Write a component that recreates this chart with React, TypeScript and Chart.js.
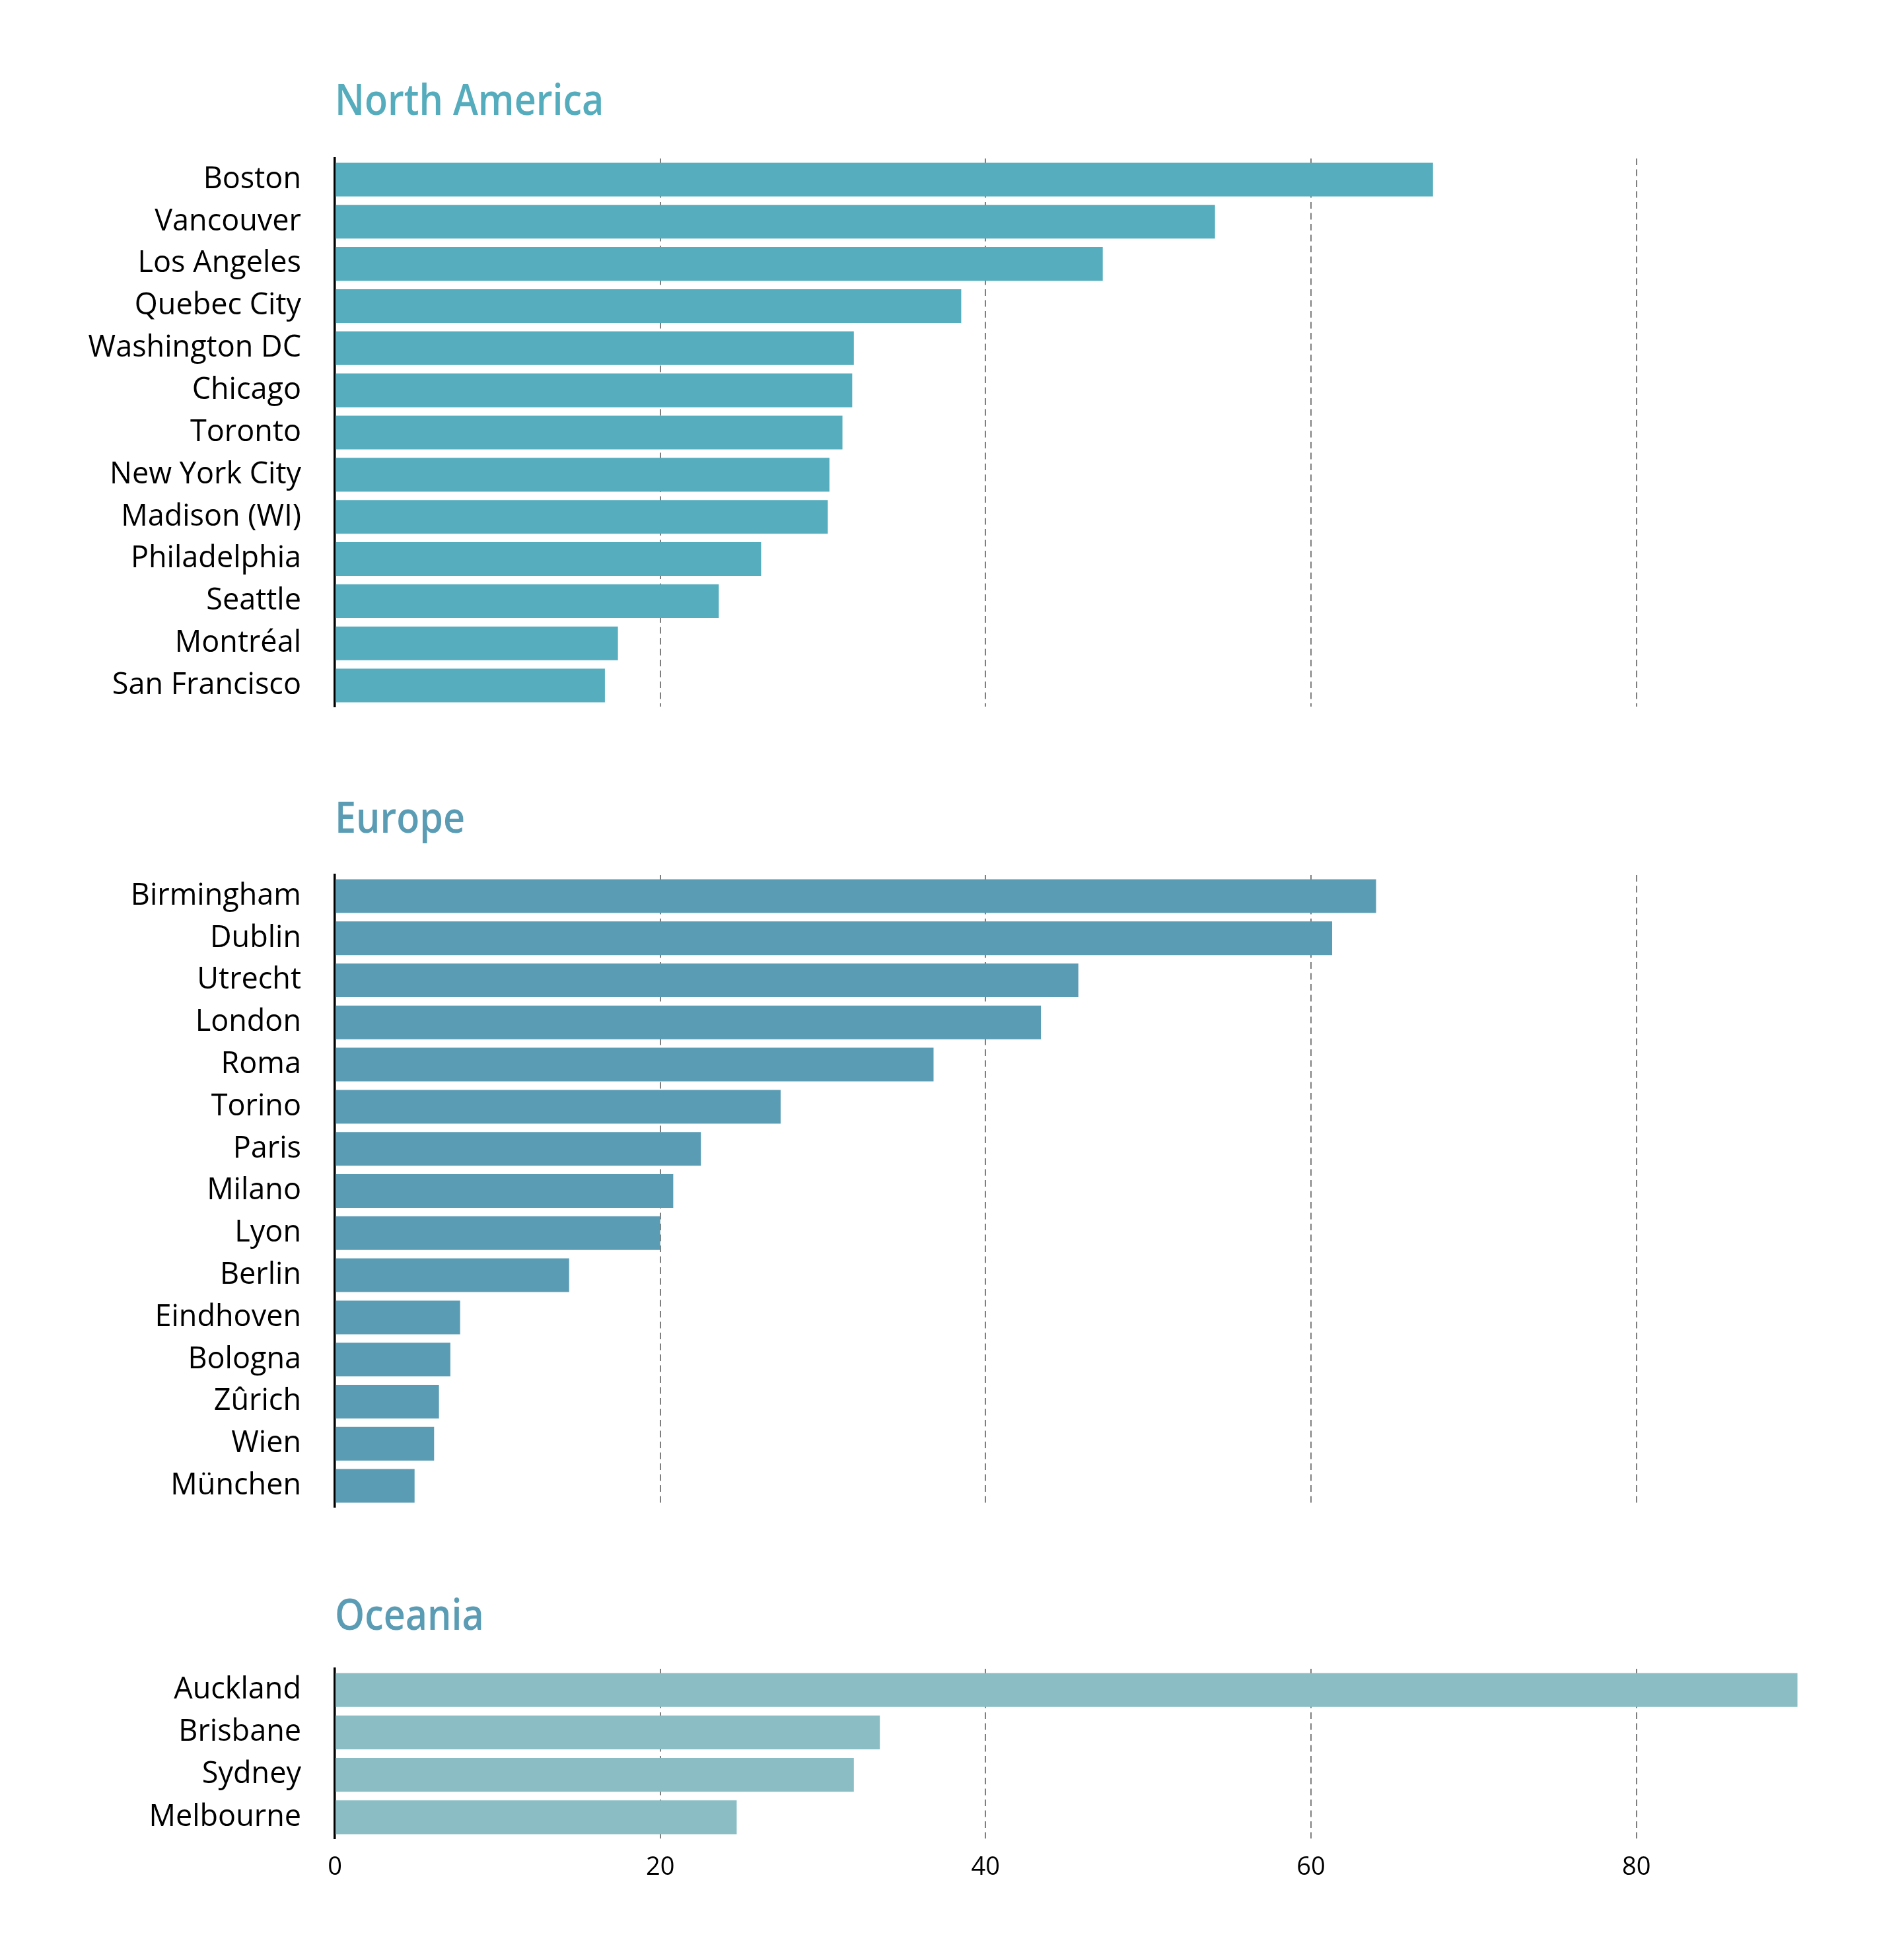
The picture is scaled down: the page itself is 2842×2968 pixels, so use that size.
import React, { useEffect, useRef } from "react";
import { Chart, registerables } from "chart.js";

Chart.register(...registerables);

// ---- data ----
const naCities = [
  "Boston", "Vancouver", "Los Angeles", "Quebec City", "Washington DC", "Chicago", "Toronto",
  "New York City", "Madison (WI)", "Philadelphia", "Seattle", "Montréal", "San Francisco",
];
const naValues = [67.5, 54.1, 47.2, 38.5, 31.9, 31.8, 31.2, 30.4, 30.3, 26.2, 23.6, 17.4, 16.6];

const euCities = [
  "Birmingham", "Dublin", "Utrecht", "London", "Roma", "Torino", "Paris", "Milano", "Lyon",
  "Berlin", "Eindhoven", "Bologna", "Zûrich", "Wien", "München",
];
const euValues = [64.0, 61.3, 45.7, 43.4, 36.8, 27.4, 22.5, 20.8, 20.0, 14.4, 7.7, 7.1, 6.4, 6.1, 4.9];

const ocCities = ["Auckland", "Brisbane", "Sydney", "Melbourne"];
const ocValues = [89.9, 33.5, 31.9, 24.7];

const xTickValues = [0, 20, 40, 60, 80];
const xMax = 90;

// ---- styling ----
const FONT = '"Open Sans", "Noto Sans", sans-serif';
const W = 2842;
const AXIS_LEFT = 507;
const PAD_RIGHT = 118;
// Headings use a semi-condensed cut of the semibold face.
const TITLE_CONDENSE = 0.87;

type Section = {
  title: string;
  titleColor: string;
  barColor: string;
  labels: string[];
  values: number[];
  top: number;
  height: number;
  padTop: number;
  padBottom: number;
  titleGap: number;
  showTicks: boolean;
  xHeight: number;
};

const sections: Section[] = [
  {
    title: "North America", titleColor: "#55ACBD", barColor: "#55ADBD",
    labels: naCities, values: naValues,
    top: 0, height: 1160, padTop: 240, padBottom: 90, titleGap: 66, showTicks: false, xHeight: 0,
  },
  {
    title: "Europe", titleColor: "#5B9CB5", barColor: "#5B9CB5",
    labels: euCities, values: euValues,
    top: 1160, height: 1212, padTop: 165, padBottom: 90, titleGap: 64, showTicks: false, xHeight: 0,
  },
  {
    title: "Oceania", titleColor: "#5B9CB5", barColor: "#8ABEC4",
    labels: ocCities, values: ocValues,
    top: 2372, height: 596, padTop: 155, padBottom: 0, titleGap: 59, showTicks: true, xHeight: 184,
  },
];

// Section heading drawn at the left edge of the plot area.
const sectionTitle = {
  id: "sectionTitle",
  afterDraw(chart: any, _args: any, opts: any) {
    const { ctx, chartArea } = chart;
    ctx.save();
    ctx.font = `600 66px ${FONT}`;
    ctx.fillStyle = opts.color;
    ctx.textAlign = "left";
    ctx.textBaseline = "alphabetic";
    ctx.translate(chartArea.left, chartArea.top - opts.gap);
    ctx.scale(TITLE_CONDENSE, 1);
    ctx.fillText(opts.text, 0, 0);
    ctx.restore();
  },
};

function RegionChart({ s }: { s: Section }) {
  const ref = useRef<HTMLCanvasElement>(null);
  useEffect(() => {
    if (!ref.current) return;
    const chart = new Chart(ref.current, {
      type: "bar",
      data: {
        labels: s.labels,
        datasets: [
          {
            data: s.values,
            backgroundColor: s.barColor,
            borderWidth: 0,
            barPercentage: 0.8,
            categoryPercentage: 1,
          },
        ],
      },
      plugins: [sectionTitle],
      options: {
        indexAxis: "y",
        animation: false,
        responsive: false,
        events: [],
        layout: { padding: { top: s.padTop, bottom: s.padBottom, left: 0, right: PAD_RIGHT } },
        plugins: {
          legend: { display: false },
          tooltip: { enabled: false },
          sectionTitle: { text: s.title, color: s.titleColor, gap: s.titleGap },
        } as any,
        scales: {
          x: {
            type: "linear",
            min: 0,
            max: xMax,
            z: 1,
            afterBuildTicks: (scale: any) => {
              scale.ticks = xTickValues.map((v) => ({ value: v }));
            },
            afterFit: (scale: any) => {
              scale.height = s.xHeight;
            },
            ticks: {
              display: s.showTicks,
              color: "#000",
              padding: 21,
              font: { family: FONT, size: 38 },
            },
            grid: {
              color: (c: any) => (c.tick && c.tick.value === 0 ? "rgba(0,0,0,0)" : "rgba(0,0,0,0.5)"),
              lineWidth: 2,
              drawTicks: false,
            },
            border: { display: false, dash: [10, 6.5] },
          },
          y: {
            type: "category",
            z: 1,
            afterFit: (scale: any) => {
              scale.width = AXIS_LEFT;
            },
            grid: { display: false, drawTicks: false },
            border: { display: true, color: "#000", width: 3.5 },
            ticks: {
              autoSkip: false,
              color: "#000",
              padding: 51,
              font: { family: FONT, size: 45 },
            },
          },
        },
      } as any,
    });
    return () => chart.destroy();
  }, [s]);

  return (
    <div style={{ position: "absolute", left: 0, top: s.top, width: W, height: s.height }}>
      <canvas ref={ref} width={W} height={s.height} style={{ display: "block" }} />
    </div>
  );
}

export default function App() {
  return (
    <div
      style={{
        position: "absolute",
        left: 0,
        top: 0,
        width: W,
        height: 2968,
        background: "#fff",
        overflow: "hidden",
      }}
    >
      {sections.map((s) => (
        <RegionChart key={s.title} s={s} />
      ))}
    </div>
  );
}
